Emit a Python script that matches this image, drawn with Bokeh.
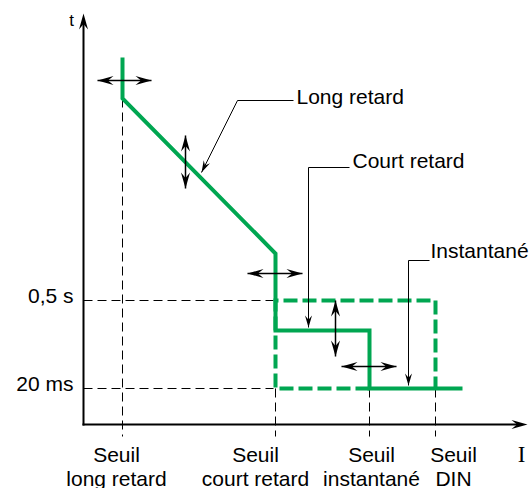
import math
from bokeh.plotting import figure
from bokeh.models import Range1d
from bokeh.core.properties import value
from bokeh.embed import file_html
from bokeh.resources import INLINE

# ---- schematic data (abstract units: 1 unit = 1 px, origin at axes corner) ----
seuil_x = [39, 192, 286, 352]                 # thresholds on the current axis
seuil_label_x = [33, 172, 288, 370]
seuil_line1 = ["Seuil", "Seuil", "Seuil", "Seuil"]
seuil_line2 = ["long retard", "court retard", "instantané", "DIN"]
seuil_dash_top = [326, 36, 36, 36]

time_y = [124, 36]                            # 0,5 s and 20 ms levels
time_labels = ["0,5 s", "20 ms"]

curve_x = [39, 39, 192, 192, 286, 286, 379]   # tripping curve (solid)
curve_y = [367, 326, 171, 94, 94, 36, 36]

band_x = [286, 192, 192, 352, 352]            # DIN band (dashed)
band_y = [36, 36, 124, 124, 36]

# adjustment double arrows: (start, end)
adjust_arrows = [((14, 344), (68, 344)), ((102, 289), (102, 236)),
                 ((164, 151), (219, 151)), ((252, 124), (252, 68)),
                 ((258, 58), (313, 58))]

# annotation leaders and texts
leader_x = [[210, 154, 118], [266, 225, 225], [346, 325, 325]]
leader_y = [[324, 324, 252], [257, 257, 97], [164, 164, 39]]
annot_text = ["Long retard", "Court retard", "Instantané"]
annot_x = [213, 269, 347]
annot_y = [321, 257, 167]

axis_x_end = 444
axis_y_end = 411

GREEN = "#00a651"
FONT = value("Liberation Sans")
TY = 7  # text baseline correction

p = figure(width=530, height=488, x_range=Range1d(-83, 447), y_range=Range1d(-64, 424),
           output_backend="svg", toolbar_location=None, min_border=0,
           x_axis_location=None, y_axis_location=None)
p.grid.visible = False
p.outline_line_color = None
p.background_fill_color = "white"
p.border_fill_color = "white"


def vee(tip, frm, L, W, inset=0.35):
    tx, ty = tip
    dx, dy = tx - frm[0], ty - frm[1]
    n = math.hypot(dx, dy)
    ux, uy = dx / n, dy / n
    nx, ny = -uy, ux
    bx, by = tx - L * ux, ty - L * uy
    ix, iy = tx - (1 - inset) * L * ux, ty - (1 - inset) * L * uy
    xs = [tx, bx + W / 2 * nx, ix, bx - W / 2 * nx]
    ys = [ty, by + W / 2 * ny, iy, by - W / 2 * ny]
    return xs, ys


heads_x, heads_y = [], []

# black dashed guide lines
for sx, top in zip(seuil_x, seuil_dash_top):
    p.line([sx, sx], [top, -12], line_color="black", line_width=1, line_dash="9 5")
for ty in time_y:
    p.line([0, seuil_x[1] - 2], [ty, ty], line_color="black", line_width=1, line_dash="9 5")

# axes
p.line([0, 0], [-1, axis_y_end - 8], line_color="black", line_width=2)
p.line([-1, axis_x_end - 8], [0, 0], line_color="black", line_width=2)
for xs_, ys_ in [vee((0, axis_y_end), (0, 0), 16, 9), vee((axis_x_end, 0), (0, 0), 16, 9)]:
    heads_x.append(xs_); heads_y.append(ys_)

# green curves
p.line(band_x, band_y, line_color=GREEN, line_width=4, line_dash="14 5",
       line_join="miter", line_cap="butt")
p.line(curve_x, curve_y, line_color=GREEN, line_width=4, line_join="miter")

# adjustment double arrows
for a, b in adjust_arrows:
    p.line([a[0], b[0]], [a[1], b[1]], line_color="black", line_width=1.5)
    for tip, frm in [(a, b), (b, a)]:
        xs_, ys_ = vee(tip, frm, 16, 9)
        heads_x.append(xs_); heads_y.append(ys_)

# leaders
for lx, ly in zip(leader_x, leader_y):
    p.line(lx, ly, line_color="black", line_width=1)
    xs_, ys_ = vee((lx[-1], ly[-1]), (lx[-2], ly[-2]), 12, 7)
    heads_x.append(xs_); heads_y.append(ys_)

p.patches(heads_x, heads_y, fill_color="black", line_color=None)

# texts
p.text(x=annot_x, y=[a + TY for a in annot_y], text=annot_text, text_font=FONT,
       text_font_size=value("21px"), text_align="left", text_baseline="alphabetic",
       text_color="black")
p.text(x=[-10] * len(time_y), y=[t - 2 + TY for t in time_y], text=time_labels, text_font=FONT,
       text_font_size=value("21px"), text_align="right", text_baseline="alphabetic",
       text_color="black")
p.text(x=seuil_label_x, y=[-37 + TY] * 4, text=seuil_line1, text_font=FONT,
       text_font_size=value("21px"), text_align="center", text_baseline="alphabetic",
       text_color="black")
p.text(x=seuil_label_x, y=[-61 + TY] * 4, text=seuil_line2, text_font=FONT,
       text_font_size=value("21px"), text_align="center", text_baseline="alphabetic",
       text_color="black")
p.text(x=[-12], y=[398 + 6], text=["t"], text_font=FONT, text_font_size=value("17px"),
       text_align="center", text_baseline="alphabetic", text_color="black")
p.text(x=[438], y=[-37 + TY], text=["I"], text_font=value("Liberation Serif"),
       text_font_size=value("23px"), text_align="center", text_baseline="alphabetic",
       text_color="black")

open("out.html", "w").write(file_html(p, INLINE))
